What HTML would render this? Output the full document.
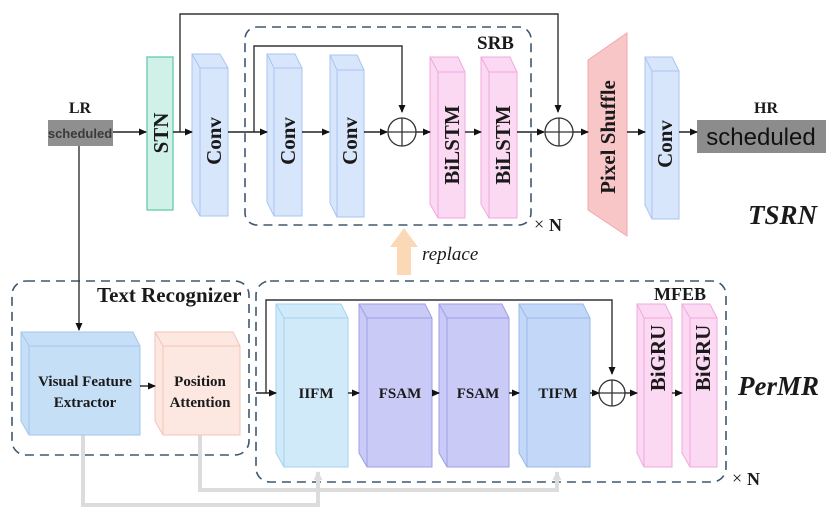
<!DOCTYPE html>
<html><head><meta charset="utf-8"><style>
html,body{margin:0;padding:0;background:#fff;}
svg{display:block;}
text{font-family:"Liberation Serif",serif;font-weight:bold;fill:#1a1a1a;}
</style></head><body>
<svg width="839" height="523" viewBox="0 0 839 523" xmlns="http://www.w3.org/2000/svg">
<defs>
<marker id="ah" markerWidth="8" markerHeight="8" refX="7" refY="4" orient="auto" markerUnits="userSpaceOnUse">
<path d="M0,0.5 L8,4 L0,7.5 z" fill="#111"/></marker>
<marker id="ag" markerWidth="10" markerHeight="10" refX="8" refY="5" orient="auto" markerUnits="userSpaceOnUse">
<path d="M0,0.5 L9,5 L0,9.5 z" fill="#ddd"/></marker>
</defs>

<g fill="none" stroke="#3e5871" stroke-width="1.6" stroke-dasharray="9,6">
<rect x="245" y="27" width="286" height="198" rx="12"/>
<rect x="12" y="281" width="237" height="174" rx="14"/>
<rect x="256" y="281" width="470" height="201" rx="14"/>
</g>

<g fill="none" stroke="#333" stroke-width="1.4">
<polyline points="180,132 180,14 558,14 558,112" marker-end="url(#ah)"/>
<polyline points="254,132 254,46 402,46 402,112" marker-end="url(#ah)"/>
<polyline points="266,393 266,300 612,300 612,374" marker-end="url(#ah)"/>
<line x1="79" y1="146" x2="79" y2="330" marker-end="url(#ah)"/>
</g>

<g fill="none" stroke="#dcdcdc" stroke-width="4">
<polyline points="83,435 83,505 318,505 318,472" marker-end="url(#ag)"/>
<polyline points="200,435 200,490 557,490 557,472" marker-end="url(#ag)"/>
</g>

<rect x="48" y="120" width="65" height="26" fill="#8f8f8f"/>
<text x="80" y="138" font-size="13" text-anchor="middle" style="font-family:'Liberation Sans',sans-serif;font-weight:bold;fill:#3a3a3a">scheduled</text>
<text x="80" y="113" font-size="16" text-anchor="middle">LR</text>
<rect x="697" y="120" width="129" height="33" fill="#8c8c8c"/>
<text x="761" y="145" font-size="24" text-anchor="middle" style="font-family:'Liberation Sans',sans-serif;font-weight:normal;fill:#111">scheduled</text>
<text x="766" y="113" font-size="16" text-anchor="middle">HR</text>

<rect x="147" y="57" width="26" height="153" fill="#d0f1e8" stroke="#5cc6aa" stroke-width="1.2"/>

<g stroke-width="1">
<g fill="#d8e6fc" stroke="#a9c4f2"><path d="M192,54 L220,54 L228,68 L228,216 L200,216 L192,202 Z"/><path d="M192,54 L200,68 L228,68 M200,68 L200,216" fill="none"/></g>
<g fill="#d8e6fc" stroke="#a9c4f2"><path d="M267,54 L295,54 L302,68 L302,216 L274,216 L267,202 Z"/><path d="M267,54 L274,68 L302,68 M274,68 L274,216" fill="none"/></g>
<g fill="#d8e6fc" stroke="#a9c4f2"><path d="M330,55 L357,55 L364,70 L364,217 L337,217 L330,203 Z"/><path d="M330,55 L337,70 L364,70 M337,70 L337,217" fill="none"/></g>
<g fill="#fcd9f2" stroke="#f0a8e0"><path d="M430,57 L458,57 L465,72 L465,218 L438,218 L430,204 Z"/><path d="M430,57 L438,72 L465,72 M438,72 L438,218" fill="none"/></g>
<g fill="#fcd9f2" stroke="#f0a8e0"><path d="M481,57 L510,57 L517,72 L517,218 L489,218 L481,204 Z"/><path d="M481,57 L489,72 L517,72 M489,72 L489,218" fill="none"/></g>
<g fill="#d8e6fc" stroke="#a9c4f2"><path d="M645,57 L672,57 L679,71 L679,219 L652,219 L645,205 Z"/><path d="M645,57 L652,71 L679,71 M652,71 L652,219" fill="none"/></g>
<path d="M588,60 L627,33 L627,236 L588,210 Z" fill="#f9c6c8" stroke="#f2a6ad"/>

<g fill="#c5dff7" stroke="#a6c6ec"><path d="M21,332 L133,332 L140,346 L140,435 L29,435 L21,421 Z"/><path d="M21,332 L29,346 L140,346 M29,346 L29,435" fill="none"/></g>
<g fill="#fde7e1" stroke="#f3c4b8"><path d="M155,332 L233,332 L240,346 L240,435 L163,435 L155,421 Z"/><path d="M155,332 L163,346 L240,346 M163,346 L163,435" fill="none"/></g>
<g fill="#d0eaf9" stroke="#a5d2ef"><path d="M276,304 L341,304 L348,318 L348,467 L284,467 L276,453 Z"/><path d="M276,304 L284,318 L348,318 M284,318 L284,467" fill="none"/></g>
<g fill="#c9cbf6" stroke="#9c9fe6"><path d="M359,304 L425,304 L432,318 L432,467 L367,467 L359,453 Z"/><path d="M359,304 L367,318 L432,318 M367,318 L367,467" fill="none"/></g>
<g fill="#c9cbf6" stroke="#9c9fe6"><path d="M439,304 L502,304 L509,318 L509,467 L447,467 L439,453 Z"/><path d="M439,304 L447,318 L509,318 M447,318 L447,467" fill="none"/></g>
<g fill="#c3d8f8" stroke="#98b8ea"><path d="M519,304 L583,304 L590,318 L590,467 L527,467 L519,453 Z"/><path d="M519,304 L527,318 L590,318 M527,318 L527,467" fill="none"/></g>
<g fill="#fcd9f2" stroke="#f0a8e0"><path d="M637,304 L665,304 L672,318 L672,467 L644,467 L637,453 Z"/><path d="M637,304 L644,318 L672,318 M644,318 L644,467" fill="none"/></g>
<g fill="#fcd9f2" stroke="#f0a8e0"><path d="M682,304 L710,304 L717,318 L717,467 L690,467 L682,453 Z"/><path d="M682,304 L690,318 L717,318 M690,318 L690,467" fill="none"/></g>
</g>

<g fill="#fff" stroke="#333" stroke-width="1.3">
<circle cx="402" cy="132" r="14"/><path d="M388,132 H416 M402,118 V146"/>
<circle cx="559" cy="132" r="14"/><path d="M545,132 H573 M559,118 V146"/>
<circle cx="612" cy="393" r="13"/><path d="M599,393 H625 M612,380 V406"/>
</g>

<g stroke="#222" stroke-width="1.4" marker-end="url(#ah)">
<line x1="113" y1="132" x2="146" y2="132"/>
<line x1="173" y1="132" x2="192" y2="132"/>
<line x1="228" y1="132" x2="267" y2="132"/>
<line x1="302" y1="132" x2="329" y2="132"/>
<line x1="364" y1="132" x2="387" y2="132"/>
<line x1="416" y1="132" x2="430" y2="132"/>
<line x1="465" y1="132" x2="481" y2="132"/>
<line x1="517" y1="132" x2="544" y2="132"/>
<line x1="573" y1="132" x2="588" y2="132"/>
<line x1="627" y1="132" x2="645" y2="132"/>
<line x1="679" y1="132" x2="697" y2="132"/>
<line x1="140" y1="386" x2="155" y2="386"/>
<line x1="256" y1="393" x2="276" y2="393"/>
<line x1="348" y1="393" x2="359" y2="393"/>
<line x1="432" y1="393" x2="439" y2="393"/>
<line x1="509" y1="393" x2="519" y2="393"/>
<line x1="590" y1="393" x2="599" y2="393"/>
<line x1="625" y1="393" x2="637" y2="393"/>
<line x1="672" y1="393" x2="682" y2="393"/>
</g>

<path d="M404,228 L418,247 L411,247 L411,275 L397,275 L397,247 L390,247 Z" fill="#fcd9b6"/>
<text x="422" y="260" font-size="19" font-style="italic" style="font-weight:normal">replace</text>

<g font-size="21">
<text transform="translate(168,133) rotate(-90)" text-anchor="middle">STN</text>
<text transform="translate(221,141) rotate(-90)" text-anchor="middle">Conv</text>
<text transform="translate(295,141) rotate(-90)" text-anchor="middle">Conv</text>
<text transform="translate(357,141) rotate(-90)" text-anchor="middle">Conv</text>
<text transform="translate(459,145) rotate(-90)" text-anchor="middle">BiLSTM</text>
<text transform="translate(510,145) rotate(-90)" text-anchor="middle">BiLSTM</text>
<text transform="translate(615,137) rotate(-90)" text-anchor="middle">Pixel Shuffle</text>
<text transform="translate(672,144) rotate(-90)" text-anchor="middle">Conv</text>
<text transform="translate(665,358) rotate(-90)" text-anchor="middle">BiGRU</text>
<text transform="translate(710,358) rotate(-90)" text-anchor="middle">BiGRU</text>
</g>

<g font-size="15" text-anchor="middle">
<text x="85" y="386">Visual Feature</text>
<text x="85" y="407">Extractor</text>
<text x="200" y="386">Position</text>
<text x="200" y="407">Attention</text>
<text x="316" y="398">IIFM</text>
<text x="400" y="398">FSAM</text>
<text x="478" y="398">FSAM</text>
<text x="558" y="398">TIFM</text>
</g>

<text x="477" y="49" font-size="19">SRB</text>
<text x="97" y="302" font-size="21">Text Recognizer</text>
<text x="654" y="300" font-size="18">MFEB</text>
<text x="534" y="230" font-size="18" style="font-weight:normal">×</text>
<text x="549" y="231" font-size="18">N</text>
<text x="732" y="484" font-size="18" style="font-weight:normal">×</text>
<text x="747" y="485" font-size="18">N</text>
<text x="748" y="224" font-size="27" font-style="italic">TSRN</text>
<text x="738" y="395" font-size="27" font-style="italic">PerMR</text>
</svg>
</body></html>
